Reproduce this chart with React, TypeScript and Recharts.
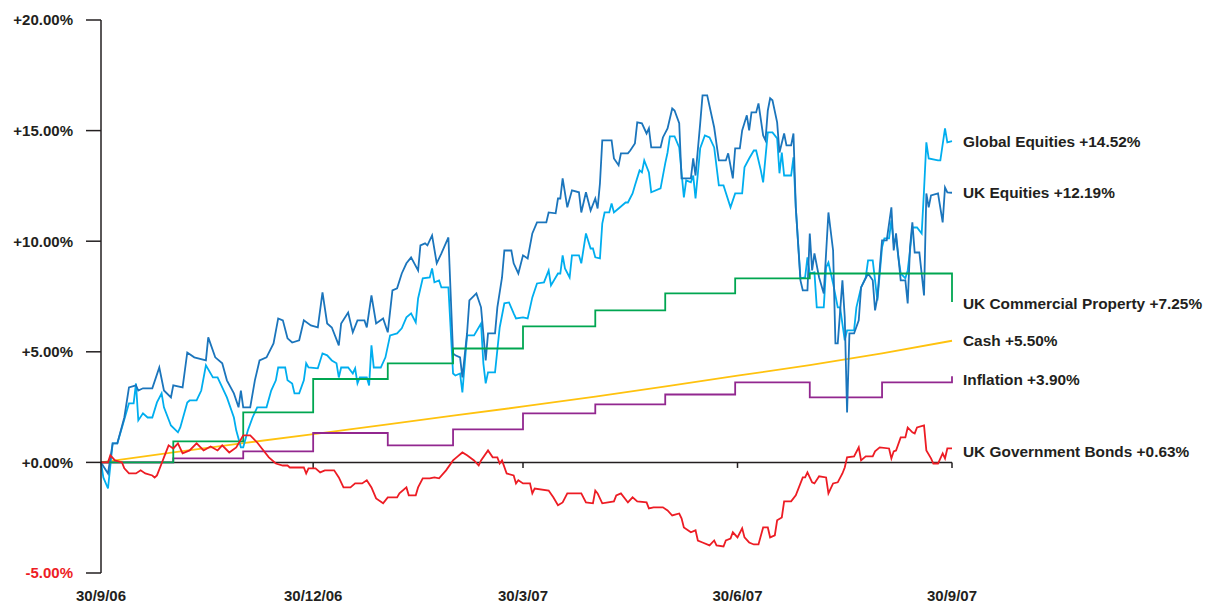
import { LineChart, Line, XAxis, YAxis, ReferenceLine, ReferenceDot } from 'recharts'

const FONT = '"Liberation Sans", Arial, Helvetica, sans-serif'
const INK = '#231f20'
const RED = '#ed1c24'

// x = days since 30/9/06, y = cumulative return in %
const xTickDays = [0, 91, 181, 273, 365]
const xTickLabels = ['30/9/06', '30/12/06', '30/3/07', '30/6/07', '30/9/07']
const yTicks = [-5, 0, 5, 10, 15, 20]

const globalEquities: [number, number][] = [
  [0, 0], [1, -0.68], [3, -1.18], [5, 0.86], [7, 0.86], [9, 1.58], [12, 2.67], [14, 2.67], [15, 3.57], [16, 1.9],
  [18, 2.22], [20, 2.03], [22, 2.03], [24, 2.71], [26, 3.12], [27, 2.49], [30, 1.67], [33, 1.36], [34, 1.58], [37, 2.71],
  [38, 2.8], [41, 2.8], [43, 3.25], [45, 4.39], [48, 3.84], [50, 3.84], [52, 3.39], [54, 2.94], [57, 2.03], [58, 1.45],
  [60, 0.68], [61, 0.68], [63, 1.45], [65, 2.03], [67, 2.49], [71, 2.49], [73, 3.25], [75, 3.71], [76, 4.29], [79, 4.29],
  [80, 3.71], [82, 3.57], [83, 3.12], [85, 3.12], [87, 3.71], [88, 4.48], [89, 4.29], [93, 4.25], [95, 4.93], [97, 4.84],
  [99, 4.61], [101, 4.48], [102, 3.84], [103, 4.29], [106, 4.29], [108, 4.02], [109, 4.25], [110, 3.57], [111, 3.84], [114, 3.84],
  [115, 3.48], [116, 5.29], [117, 4.29], [120, 4.29], [122, 4.75], [124, 5.74], [127, 5.83], [129, 6.06], [131, 6.56], [133, 6.74],
  [135, 6.33], [136, 7.41], [138, 8.32], [141, 8.36], [142, 8.77], [143, 8.14], [145, 8.23], [146, 7.91], [149, 7.91], [151, 4.02],
  [152, 3.93], [154, 4.02], [155, 3.16], [157, 5.74], [160, 5.74], [163, 6.28], [164, 4.48], [165, 3.57], [166, 4.07], [169, 4.07],
  [171, 6.1], [173, 7.19], [175, 7.23], [177, 6.74], [178, 6.51], [181, 6.56], [183, 6.51], [185, 7.46], [187, 8.09], [190, 8.14],
  [192, 8.68], [193, 8.0], [196, 8.54], [197, 8.54], [198, 9.36], [199, 8.77], [201, 8.36], [202, 9.36], [205, 9.36], [206, 9.0],
  [208, 10.35], [210, 9.67], [211, 9.67], [212, 9.27], [214, 9.22], [215, 10.8], [216, 11.3], [218, 11.3], [219, 11.71], [220, 11.3],
  [222, 11.48], [225, 11.75], [226, 11.75], [228, 12.16], [229, 12.52], [231, 13.2], [232, 13.11], [233, 13.65], [235, 13.11], [236, 12.21],
  [240, 12.39], [242, 13.52], [243, 14.01], [244, 14.74], [246, 14.74], [248, 14.24], [250, 11.98], [251, 12.75], [253, 12.66], [254, 12.97],
  [255, 11.93], [257, 14.2], [259, 14.78], [261, 14.69], [263, 14.24], [265, 12.52], [267, 12.52], [270, 11.53], [272, 12.16], [275, 12.16],
  [276, 13.34], [278, 13.74], [280, 14.1], [281, 14.1], [283, 13.2], [284, 12.66], [286, 14.92], [288, 14.92], [290, 14.65], [291, 13.07],
  [292, 14.01], [293, 12.97], [296, 12.97], [297, 13.79], [298, 11.53], [300, 8.32], [302, 8.36], [303, 9.27], [304, 8.54], [306, 8.59],
  [307, 7.01], [310, 7.01], [311, 8.82], [312, 9.04], [314, 8.09], [316, 7.01], [317, 7.01], [319, 5.52], [320, 5.97], [323, 5.97],
  [324, 7.01], [326, 7.91], [328, 8.36], [329, 9.13], [331, 9.13], [332, 8.23], [333, 7.32], [335, 9.72], [336, 10.13], [338, 10.13],
  [339, 10.94], [340, 9.9], [341, 10.17], [342, 9.27], [343, 8.54], [345, 8.32], [346, 8.68], [347, 9.58], [348, 10.62], [350, 10.62],
  [352, 10.35], [353, 12.3], [354, 14.47], [355, 13.74], [359, 13.65], [360, 13.65], [362, 15.1], [363, 14.47], [365, 14.52],
]

const ukEquities: [number, number][] = [
  [0, 0], [3, -0.5], [5, 0.86], [7, 0.86], [10, 2.03], [12, 3.39], [15, 3.48], [16, 3.25], [18, 3.35], [22, 3.35],
  [25, 4.29], [27, 3.25], [30, 2.94], [31, 3.48], [35, 3.39], [37, 4.97], [40, 4.75], [45, 4.61], [46, 5.65], [49, 4.75],
  [52, 4.48], [54, 3.71], [57, 3.12], [59, 2.49], [60, 3.25], [61, 2.49], [64, 2.49], [66, 3.71], [68, 4.61], [71, 4.75],
  [74, 5.38], [76, 6.51], [78, 6.42], [80, 5.61], [82, 5.42], [85, 5.52], [87, 6.42], [90, 6.19], [93, 6.1], [95, 7.69],
  [97, 6.28], [99, 6.1], [102, 5.29], [103, 6.28], [106, 6.78], [108, 5.88], [110, 6.42], [113, 6.42], [114, 6.1], [116, 7.55],
  [118, 6.28], [121, 6.51], [123, 5.88], [125, 7.78], [127, 7.87], [129, 8.54], [131, 9.0], [133, 9.27], [136, 8.68], [137, 9.81],
  [139, 9.9], [140, 9.81], [142, 10.26], [144, 9.0], [146, 9.45], [149, 10.17], [151, 4.93], [152, 4.84], [154, 4.75], [155, 3.84],
  [157, 5.83], [158, 7.32], [161, 7.64], [163, 7.01], [165, 4.61], [166, 5.83], [169, 5.83], [170, 7.01], [172, 8.36], [173, 9.58],
  [176, 9.58], [177, 9.0], [179, 8.54], [181, 9.36], [183, 9.22], [185, 10.35], [187, 10.85], [191, 10.85], [192, 11.3], [195, 11.26],
  [196, 11.93], [197, 11.93], [198, 12.84], [200, 11.53], [202, 12.3], [205, 12.21], [206, 11.3], [208, 12.21], [210, 11.39], [212, 11.93],
  [213, 11.48], [214, 12.61], [215, 14.56], [219, 14.56], [220, 13.74], [222, 13.43], [223, 13.97], [226, 13.97], [227, 14.1], [229, 14.42],
  [230, 15.37], [232, 15.33], [234, 14.87], [235, 15.1], [236, 14.24], [240, 14.24], [241, 14.69], [243, 15.1], [245, 16.0], [246, 15.91],
  [248, 15.33], [249, 12.84], [253, 12.84], [254, 13.74], [255, 12.97], [257, 15.33], [258, 16.59], [260, 16.59], [263, 15.14], [265, 13.65],
  [268, 13.65], [269, 13.97], [271, 12.84], [272, 14.2], [274, 14.2], [275, 15.01], [277, 15.69], [278, 15.01], [279, 15.82], [281, 15.82],
  [282, 16.23], [284, 14.78], [285, 14.56], [286, 15.91], [287, 16.46], [288, 16.37], [290, 15.37], [291, 14.01], [293, 14.87], [294, 14.33],
  [296, 14.33], [297, 14.87], [298, 11.53], [300, 8.23], [301, 7.78], [303, 7.78], [304, 10.35], [305, 8.68], [306, 9.45], [308, 8.36],
  [310, 7.64], [312, 11.3], [314, 9.58], [315, 5.38], [316, 5.38], [318, 8.23], [319, 6.56], [320, 2.26], [321, 5.83], [323, 5.83],
  [325, 6.42], [326, 7.91], [329, 8.54], [331, 8.23], [332, 6.87], [333, 7.46], [335, 10.04], [337, 10.04], [339, 11.53], [340, 9.58],
  [341, 10.35], [343, 8.23], [345, 8.23], [346, 7.19], [347, 9.72], [348, 10.85], [349, 9.49], [351, 9.49], [353, 7.55], [354, 12.16],
  [355, 11.53], [356, 12.07], [359, 12.16], [361, 10.85], [362, 12.43], [363, 12.21], [365, 12.19],
]

// monthly valuations, drawn as steps
const ukProperty: [number, number][] = [
  [0, 0], [31, 0.95], [61, 2.26], [91, 3.77], [123, 4.48], [151, 5.15], [181, 6.15], [212, 6.87], [242, 7.64], [272, 8.32],
  [304, 8.54], [365, 7.25],
]

const cash: [number, number][] = [
  [0, 0], [31, 0.45], [61, 0.87], [92, 1.29], [123, 1.72], [151, 2.11], [182, 2.54], [212, 2.97], [243, 3.45], [273, 3.92],
  [304, 4.4], [335, 4.93], [365, 5.5],
]

const inflation: [number, number][] = [
  [0, 0], [31, 0.18], [61, 0.5], [91, 1.33], [123, 0.77], [151, 1.49], [181, 2.22], [212, 2.62], [242, 3.07], [272, 3.62],
  [304, 2.94], [335, 3.62], [365, 3.9],
]

const ukGilts: [number, number][] = [
  [0, 0], [3, 0], [4, 0.32], [6, 0.09], [9, 0], [10, -0.27], [12, -0.5], [15, -0.5], [17, -0.36], [19, -0.5],
  [22, -0.59], [23, -0.68], [24, -0.59], [26, -0.05], [27, 0.23], [29, 0.77], [31, 0.63], [33, 0.86], [35, 0.41], [38, 0.54],
  [41, 0.86], [44, 0.54], [47, 0.72], [50, 0.54], [52, 0.77], [55, 0.45], [58, 0.68], [61, 1.22], [64, 1.22], [67, 0.9],
  [69, 0.63], [72, 0.23], [75, -0.05], [78, -0.14], [80, -0.14], [81, -0.23], [84, -0.23], [87, -0.23], [88, -0.5], [89, -0.27],
  [92, -0.27], [94, -0.45], [96, -0.36], [100, -0.36], [102, -0.68], [104, -1.13], [107, -1.13], [109, -0.95], [112, -0.95], [114, -0.81],
  [116, -1.13], [118, -1.63], [121, -1.85], [123, -1.58], [127, -1.58], [128, -1.4], [131, -1.13], [132, -1.49], [135, -1.49], [136, -1.13],
  [138, -0.72], [141, -0.72], [143, -0.68], [145, -0.72], [148, -0.36], [151, 0.09], [153, 0.27], [155, 0.45], [157, 0.32], [160, 0.09],
  [162, -0.14], [163, 0.09], [166, 0.54], [168, 0.23], [170, 0.23], [171, -0.05], [172, 0.09], [174, -0.5], [177, -0.59], [178, -0.95],
  [179, -0.81], [181, -0.95], [184, -0.95], [185, -1.4], [186, -1.18], [192, -1.27], [194, -1.58], [196, -1.94], [198, -1.81], [200, -1.4],
  [206, -1.4], [208, -1.81], [211, -1.85], [212, -1.27], [213, -1.4], [215, -1.85], [220, -1.76], [221, -1.49], [223, -1.4], [226, -1.81],
  [228, -1.58], [230, -1.76], [234, -1.81], [235, -2.08], [237, -2.03], [241, -2.03], [243, -2.17], [245, -2.4], [248, -2.31], [249, -2.53],
  [250, -2.94], [253, -3.16], [255, -3.07], [256, -3.53], [258, -3.62], [261, -3.75], [263, -3.53], [264, -3.75], [267, -3.8], [268, -3.53],
  [270, -3.44], [271, -3.16], [273, -3.39], [275, -2.98], [276, -3.39], [278, -3.62], [280, -3.71], [282, -3.71], [284, -2.94], [286, -2.94],
  [287, -3.39], [289, -3.3], [290, -2.62], [292, -2.49], [293, -1.76], [296, -1.76], [298, -1.49], [301, -0.68], [302, -0.68], [303, -0.45],
  [305, -0.9], [306, -0.95], [308, -0.63], [311, -0.68], [312, -1.4], [314, -0.95], [316, -0.9], [318, -0.5], [319, -0.23], [320, 0.23],
  [323, 0.27], [325, 0.68], [326, 0.09], [328, 0.27], [331, 0.27], [332, 0.5], [334, 0.68], [338, 0.63], [339, 0.18], [340, 0.5],
  [341, 0.54], [343, 1.13], [345, 1.13], [346, 1.58], [348, 1.36], [349, 1.31], [350, 1.58], [353, 1.67], [354, 0.54], [356, 0.18],
  [357, -0.05], [359, -0.05], [361, 0.41], [362, 0.18], [363, 0.63], [365, 0.63],
]

const series = [
  { name: 'Cash', color: '#ffc20e', points: cash, step: false, dy: 0 },
  { name: 'Inflation', color: '#92278f', points: inflation, step: true, dy: 3 },
  { name: 'Global Equities', color: '#00aeef', points: globalEquities, step: false, dy: 0 },
  { name: 'UK Equities', color: '#1b75bc', points: ukEquities, step: false, dy: 0 },
  { name: 'UK Commercial Property', color: '#00a651', points: ukProperty, step: true, dy: 1 },
  { name: 'UK Government Bonds', color: RED, points: ukGilts, step: false, dy: 3 },
]

const toRows = (pts: [number, number][]) => pts.map(([day, value]) => ({ day, value }))

const pct = (v: number) => `${v >= 0 ? '+' : ''}${v.toFixed(2)}%`

function YTick({ x, y, payload }: any) {
  return (
    <text x={x} y={y} dy="0.36em" textAnchor="end" fill={payload.value < 0 ? RED : INK}
      fontFamily={FONT} fontSize={15} fontWeight="bold">
      {pct(payload.value)}
    </text>
  )
}

export default function App() {
  return (
    <div style={{ position: 'absolute', left: 0, top: 0, background: '#fff' }}>
      <LineChart width={1209} height={603} margin={{ top: 20, right: 257, bottom: 0, left: 0 }}>
        <XAxis dataKey="day" type="number" domain={[0, 365]} ticks={xTickDays} interval={0}
          tickFormatter={(d: number) => xTickLabels[xTickDays.indexOf(d)]}
          axisLine={false} tickLine={false} tickSize={0} tickMargin={17} height={30}
          tick={{ fill: INK, fontSize: 15, fontWeight: 'bold', fontFamily: FONT }} />
        <YAxis type="number" domain={[-5, 20]} ticks={yTicks} interval={0} width={101}
          axisLine={{ stroke: INK, strokeWidth: 1.5 }} tickLine={{ stroke: INK, strokeWidth: 1.5 }}
          tickSize={15} tickMargin={13} tick={<YTick />} />
        <ReferenceLine y={0} stroke={INK} strokeWidth={1.5} />
        {xTickDays.slice(1).map(d => (
          <ReferenceLine key={d} segment={[{ x: d, y: 0 }, { x: d, y: -0.25 }]} stroke={INK} strokeWidth={1.5} />
        ))}
        {series.map(s => (
          <Line key={s.name} data={toRows(s.points)} dataKey="value" type={s.step ? 'stepAfter' : 'linear'}
            stroke={s.color} strokeWidth={1.8} dot={false} activeDot={false} isAnimationActive={false} />
        ))}
        {series.map(s => {
          const [day, value] = s.points[s.points.length - 1]
          return (
            <ReferenceDot key={s.name + '-label'} x={day} y={value} r={0}
              shape={(p: any) => (
                <text x={p.cx + 11} y={p.cy + s.dy} dy="0.36em" fill={INK} fontFamily={FONT}
                  fontSize={15.4} fontWeight="bold">
                  {`${s.name} ${pct(value)}`}
                </text>
              )} />
          )
        })}
      </LineChart>
    </div>
  )
}
